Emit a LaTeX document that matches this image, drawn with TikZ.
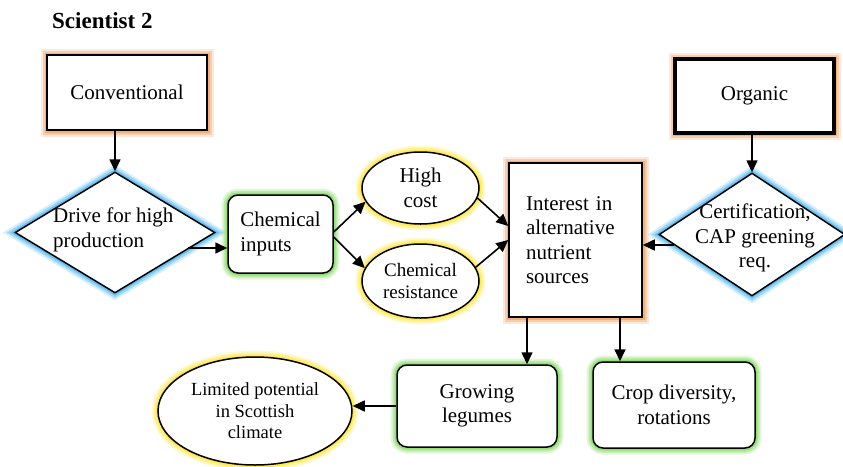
\documentclass[tikz,border=0pt]{standalone}
\usepackage{fontspec}
\setmainfont{Liberation Serif}
\usetikzlibrary{shapes.geometric, arrows.meta, calc}
\definecolor{gO}{HTML}{F5A870}
\definecolor{gB}{HTML}{5EBDF2}
\definecolor{gG}{HTML}{8FDC6E}
\definecolor{gY}{HTML}{FFE94A}
\begin{document}
\begin{tikzpicture}[x=1pt,y=-1pt,
 glow/.style={preaction={draw=#1,fill=none,line width=13pt,opacity=.25},preaction={draw=#1,fill=none,line width=9pt,opacity=.45},preaction={draw=#1,fill=none,line width=5pt,opacity=.85}},
 base/.style={draw=black, fill=white, line width=1.5pt, inner sep=0pt, font=\fontsize{21}{24.5}\selectfont, align=center},
 sqbox/.style={base, rectangle, glow=gO},
 rbox/.style={base, rectangle, rounded corners=10pt, glow=gG},
 oval/.style={base, ellipse, glow=gY},
 dia/.style={base, diamond, glow=gB},
 arr/.style={line width=1.6pt, -{Triangle[length=12pt,width=11pt]}},
 txt/.style={inner sep=0pt, font=\fontsize{21}{24.5}\selectfont}
]
\useasboundingbox (0,0) rectangle (843,466);
\node[font=\bfseries\fontsize{23}{27}\selectfont, anchor=west, inner sep=0pt] (title) at (52,21) {Scientist 2};

\node[sqbox, line width=2.6pt, minimum width=160pt, minimum height=75pt] (conv) at (127,92.5) {Conventional};
\node[dia, minimum width=200pt, minimum height=121pt] (drive) at (115,232.5) {};
\node[txt, align=left, anchor=west] (drivet) at (53,230) {Drive for high\\production};
\node[rbox, minimum width=105pt, minimum height=78pt, align=left] (chem) at (280.5,234) {Chemical\\inputs};
\node[oval, minimum width=117pt, minimum height=72pt] (high) at (420.5,188) {High\\cost};
\node[oval, minimum width=117pt, minimum height=74pt, font=\fontsize{19}{22}\selectfont] (res) at (420.5,281) {Chemical\\resistance};
\node[sqbox, minimum width=133pt, minimum height=154pt, text width=99pt, align=left] (int) at (575.5,240) {Interest in\\alternative\\nutrient\\sources};
\node[sqbox, line width=3.6pt, minimum width=159pt, minimum height=74pt] (org) at (754.5,96) {Organic};
\node[dia, minimum width=186pt, minimum height=123pt] (cert) at (752,234.5) {};
\node[txt, align=center] (certt) at (755,238) {Certification,\\CAP greening\\req.};
\node[rbox, minimum width=160pt, minimum height=82pt] (grow) at (477,406) {Growing\\legumes};
\node[rbox, minimum width=162pt, minimum height=86pt] (crop) at (674,405) {Crop diversity,\\rotations};
\node[oval, minimum width=194pt, minimum height=108pt, font=\fontsize{18.5}{21.5}\selectfont] (lim) at (255,411) {Limited potential\\in Scottish\\climate};

\draw[arr] (drive.north |- conv.south) -- (drive.north);
\coordinate (p1) at (188,248);
\draw[arr] (p1) -- (p1 -| chem.west);
\draw[arr] ($(chem.east)+(0,-2)$) -- (high.194);
\draw[arr] ($(chem.east)+(0,3)$) -- (res.167);
\draw[arr] (high.-10) -- ($(int.west)+(0,-14)$);
\draw[arr] (res.14) -- ($(int.west)+(0,0)$);
\draw[arr] (cert.north |- org.south) -- (cert.north);
\coordinate (p2) at (674,245);
\draw[arr] (p2) -- (p2 -| int.east);
\draw[arr] ([xshift=-48.5pt]int.south) -- ([xshift=-48.5pt]int.south |- grow.north);
\draw[arr] ([xshift=44.5pt]int.south) -- ([xshift=44.5pt]int.south |- crop.north);
\draw[arr] (grow.west) -- (grow.west -| lim.east);
\end{tikzpicture}
\end{document}
